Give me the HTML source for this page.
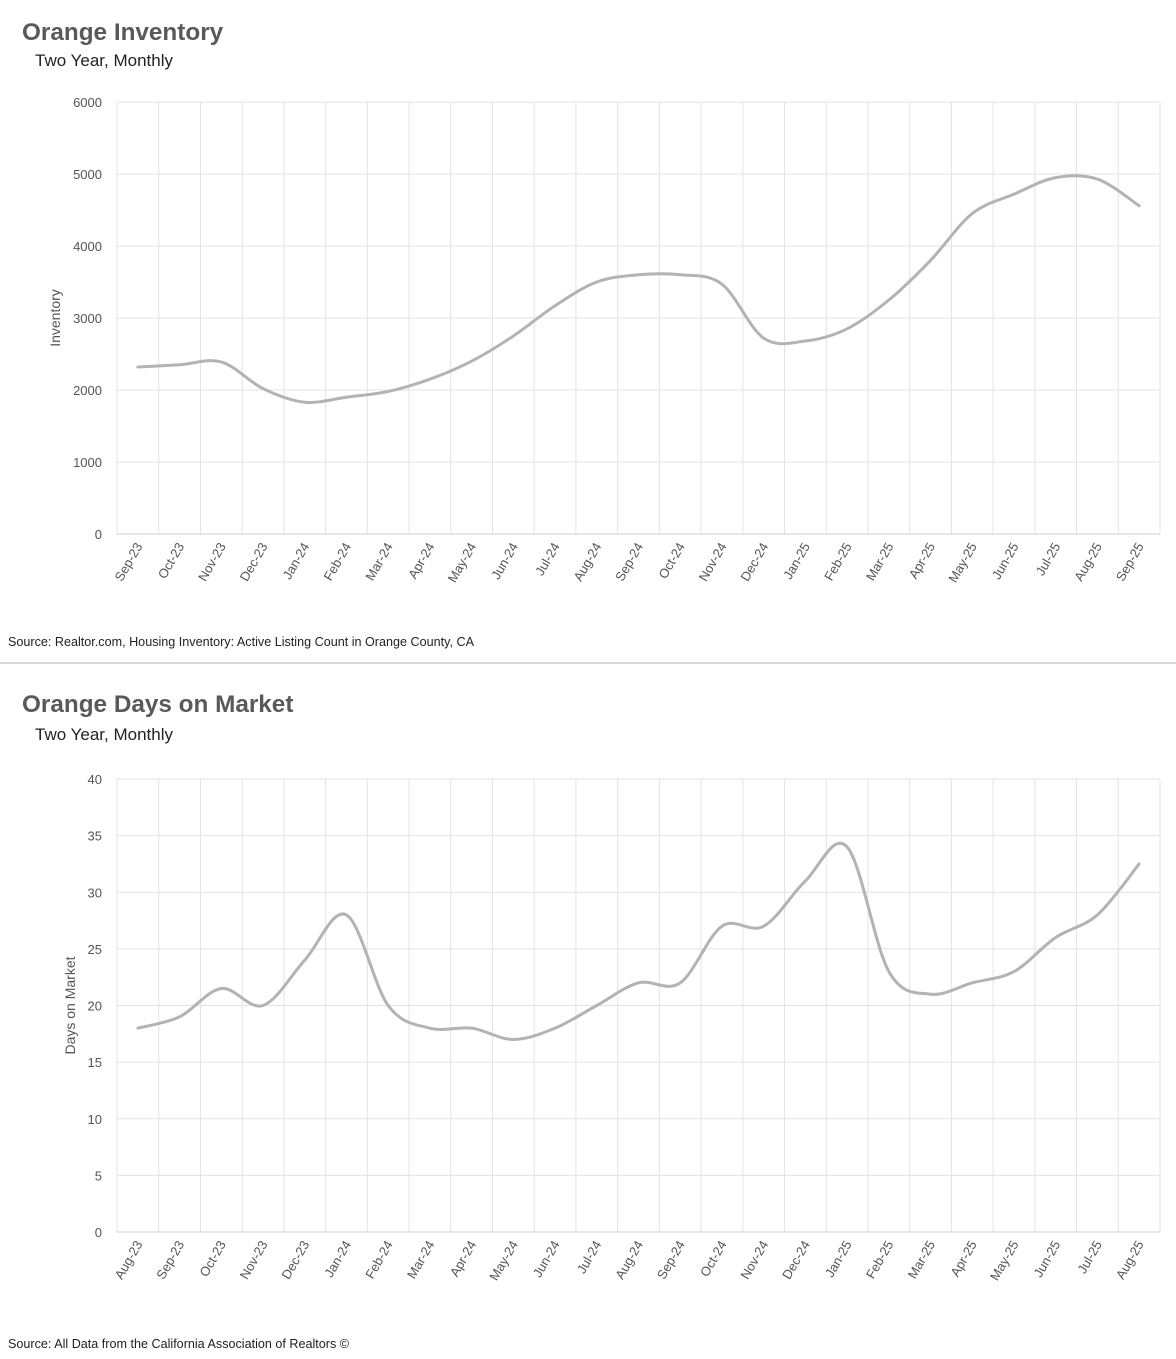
<!DOCTYPE html>
<html><head><meta charset="utf-8"><style>
body{margin:0;background:#fff;font-family:"Liberation Sans",sans-serif;}
svg text{font-family:"Liberation Sans",sans-serif;}
</style></head><body>
<svg id="s" width="1176" height="1354" xmlns="http://www.w3.org/2000/svg">
<text x="22" y="40" font-size="24.3" font-weight="bold" fill="#595959">Orange Inventory</text>
<text x="35" y="66" font-size="17" fill="#222">Two Year, Monthly</text>
<text x="8" y="646" font-size="12.6" fill="#222">Source: Realtor.com, Housing Inventory: Active Listing Count in Orange County, CA</text>
<rect x="0" y="662" width="1176" height="2" fill="#d9d9d9"/>
<text x="22" y="712" font-size="24.3" font-weight="bold" fill="#595959">Orange Days on Market</text>
<text x="35" y="740" font-size="17" fill="#222">Two Year, Monthly</text>
<text x="8" y="1348" font-size="12.6" fill="#222">Source: All Data from the California Association of Realtors ©</text>
<g id="c1"></g><g id="c2"></g>
</svg>
<script>
const invCats=["Sep-23","Oct-23","Nov-23","Dec-23","Jan-24","Feb-24","Mar-24","Apr-24","May-24","Jun-24","Jul-24","Aug-24","Sep-24","Oct-24","Nov-24","Dec-24","Jan-25","Feb-25","Mar-25","Apr-25","May-25","Jun-25","Jul-25","Aug-25","Sep-25"];
const invVals=[2320,2350,2390,2020,1830,1900,1980,2150,2400,2750,3170,3500,3600,3600,3470,2720,2680,2850,3250,3800,4450,4720,4950,4930,4560];
const invTicks=[0,1000,2000,3000,4000,5000,6000];
const domCats=["Aug-23","Sep-23","Oct-23","Nov-23","Dec-23","Jan-24","Feb-24","Mar-24","Apr-24","May-24","Jun-24","Jul-24","Aug-24","Sep-24","Oct-24","Nov-24","Dec-24","Jan-25","Feb-25","Mar-25","Apr-25","May-25","Jun-25","Jul-25","Aug-25"];
const domVals=[18,19,21.5,20,24,28,20,18,18,17,18,20,22,22,27,27,31,34,23,21,22,23,26,28,32.5];
const domTicks=[0,5,10,15,20,25,30,35,40];
const NS="http://www.w3.org/2000/svg";
function mk(g,tag,attrs){const e=document.createElementNS(NS,tag);for(const k in attrs)e.setAttribute(k,attrs[k]);g.appendChild(e);return e;}
function chart(gid,cats,vals,ticks,top,bottom,ylabel,prefix){
  const g=document.getElementById(gid);
  const L=117,R=1160,max=ticks[ticks.length-1];
  const bw=(R-L)/cats.length;
  const x=i=>L+bw*(i+0.5);
  const y=v=>bottom-(v/max)*(bottom-top);
  for(let i=0;i<=cats.length;i++){
    const l=mk(g,'line',{x1:L+bw*i,x2:L+bw*i,y1:top,y2:bottom,stroke:'#e3e3e3','stroke-width':1});
    
    
  }
  ticks.forEach(t=>{
    const l=mk(g,'line',{x1:L,x2:R,y1:y(t),y2:y(t),stroke:t===0?'#cfcfcf':'#e3e3e3','stroke-width':1});
    
    
    const tx=mk(g,'text',{x:102,y:y(t)+5,'text-anchor':'end','font-size':13,fill:'#555'});
    tx.textContent=t;
    
    
  });
  cats.forEach((c,i)=>{
    const tx=mk(g,'text',{x:0,y:0,'text-anchor':'end','font-size':13,fill:'#555',transform:`translate(${x(i)+5},${bottom+12}) rotate(-60)`});
    tx.textContent=c;
    
    
  });
  const yt=mk(g,'text',{x:0,y:0,'text-anchor':'middle','font-size':14,fill:'#555',transform:`translate(${gid==='c1'?60:75},${(top+bottom)/2}) rotate(-90)`});
  yt.textContent=ylabel;
  
  
  const P=vals.map((v,i)=>[x(i),y(v)]);
  let d=`M${P[0][0]},${P[0][1]}`;
  for(let i=0;i<P.length-1;i++){
    const p0=P[Math.max(0,i-1)],p1=P[i],p2=P[i+1],p3=P[Math.min(P.length-1,i+2)];
    const t=6;
    d+=` C${p1[0]+(p2[0]-p0[0])/t},${p1[1]+(p2[1]-p0[1])/t} ${p2[0]-(p3[0]-p1[0])/t},${p2[1]-(p3[1]-p1[1])/t} ${p2[0]},${p2[1]}`;
  }
  const path=mk(g,'path',{d:d,fill:'none',stroke:'#b3b3b3','stroke-width':3,'stroke-linecap':'round'});
  
  
}
chart('c1',invCats,invVals,invTicks,102,534,'Inventory','inventory');
chart('c2',domCats,domVals,domTicks,779,1232,'Days on Market','dom');
</script>
</body></html>
